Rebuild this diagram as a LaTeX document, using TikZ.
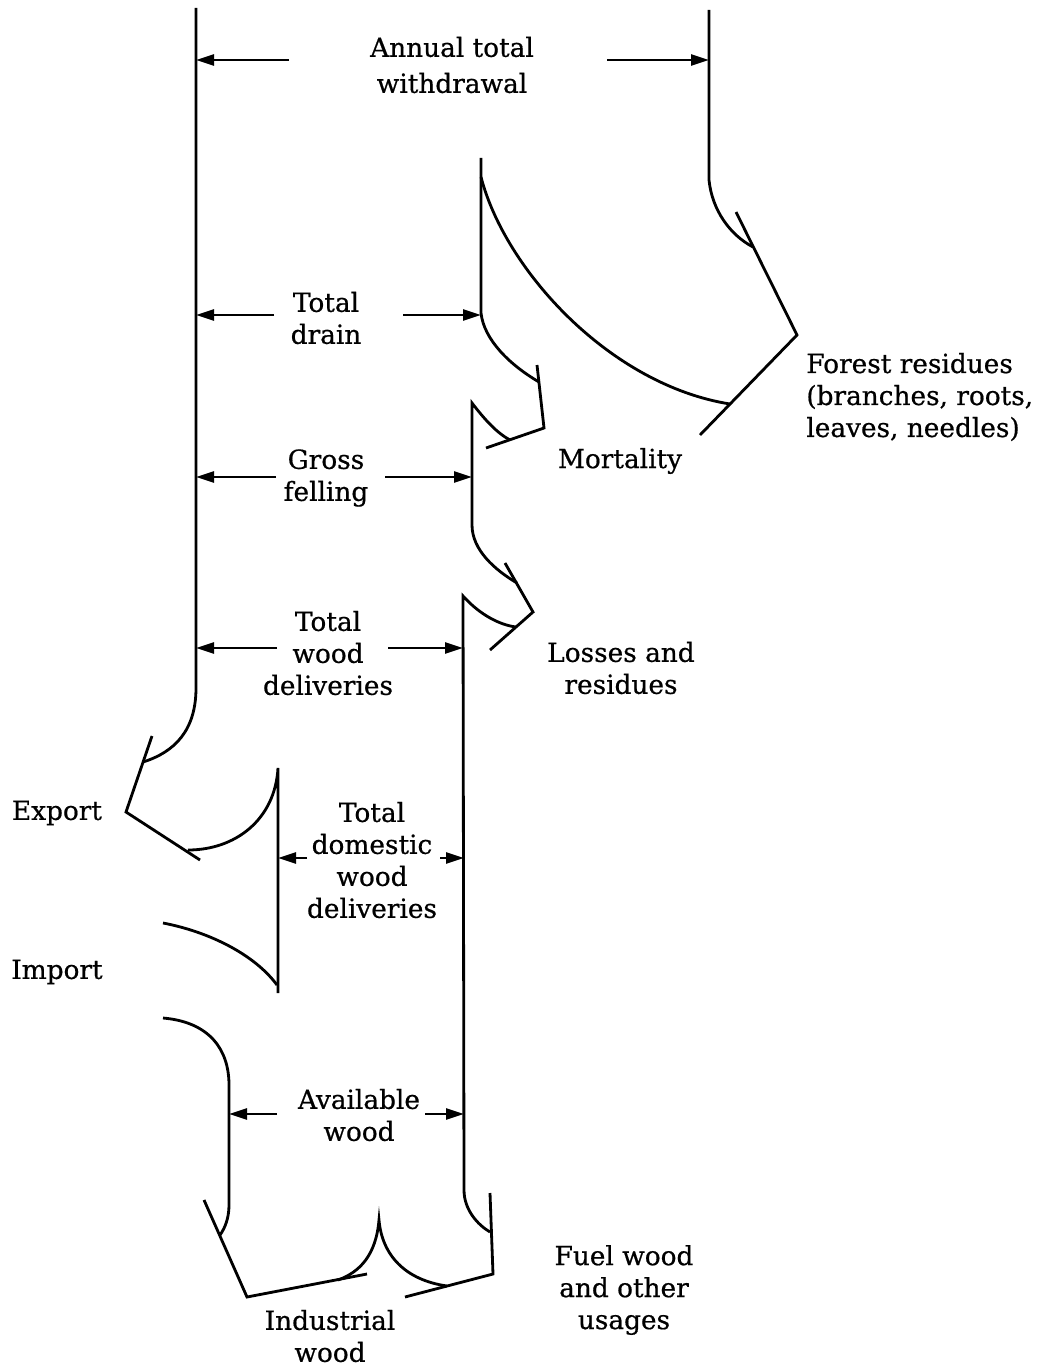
\documentclass[tikz,border=0pt]{standalone}
\usepackage{fontspec}
\setmainfont[FakeBold=0.6]{DejaVu Serif}
\usetikzlibrary{arrows.meta}
\begin{document}
\begin{tikzpicture}[x=0.02cm,y=-0.02cm,
  flow/.style={line width=1.6pt, line join=miter},
  dim/.style={line width=1.5pt, -{Triangle[length=0.36cm,width=0.22cm]}},
  lbl/.style={font=\fontsize{15}{18.2}\selectfont, align=center, inner sep=0pt},
]
\useasboundingbox (0,0) rectangle (1058,1368);

% ---- flow outlines ----
% left stem and export branch
\draw[flow] (196,8) -- (196,688) .. controls (196,730) and (175,752) .. (143,762);
\draw[flow] (152,736) -- (126,812) -- (200,860);
\draw[flow] (188,850) .. controls (235,850) and (275,820) .. (278,768) -- (278,993);
% import branch
\draw[flow] (163,923) .. controls (210,932) and (255,955) .. (277,985);
\draw[flow] (163,1018) .. controls (210,1022) and (229,1050) .. (229,1085)
  -- (229,1205) .. controls (229,1218) and (225,1228) .. (220,1235);
\draw[flow] (204,1200) -- (247,1297) -- (367,1274);
% industrial wood / fuel wood split
\draw[flow] (338,1280) .. controls (360,1272) and (376,1255) .. (379,1220)
  .. controls (382,1255) and (405,1280) .. (447,1286);
\draw[flow] (405,1297) -- (493,1274) -- (490,1193);
% right stem with losses and residues
\draw[flow] (516,627) .. controls (500,625) and (480,615) .. (463,596)
  -- (464,1190) .. controls (464,1210) and (478,1225) .. (490,1232);
\draw[flow] (505,563) -- (533,612) -- (490,650);
% gross felling line with mortality
\draw[flow] (510,440) .. controls (497,433) and (485,420) .. (472,403)
  -- (472,525) .. controls (472,550) and (495,570) .. (517,583);
\draw[flow] (486,448) -- (544,428) -- (537,365);
% total drain line
\draw[flow] (481,158) -- (481,313) .. controls (484,340) and (510,365) .. (539,382);
% forest residues
\draw[flow] (481,177) .. controls (505,270) and (610,385) .. (730,404);
\draw[flow] (709,10) -- (709,180) .. controls (712,210) and (730,235) .. (753,247);
\draw[flow] (736,212) -- (797,335) -- (700,435);

% ---- labels ----
\node[lbl, font=\fontsize{15}{20.5}\selectfont] (withdrawal) at (452,65) {Annual total\\withdrawal};
\node[lbl] (drain) at (326,318) {Total\\drain};
\node[lbl] (felling) at (326,478) {Gross\\felling};
\node[lbl] (deliveries) at (328,653) {Total\\wood\\deliveries};
\node[lbl] (domestic) at (372,860) {Total\\domestic\\wood\\deliveries};
\node[lbl] (available) at (359,1115) {Available\\wood};
\node[lbl] (mortality) at (620,461) {Mortality};
\node[lbl] (losses) at (621,668) {Losses and\\residues};
\node[lbl, align=left, anchor=west] (forest) at (806,397) {Forest residues\\(branches, roots,\\leaves, needles)};
\node[lbl] (export) at (57,813) {Export};
\node[lbl] (import) at (57,972) {Import};
\node[lbl] (fuel) at (624,1290) {Fuel wood\\and other\\usages};
\node[lbl] (industrial) at (330,1336) {Industrial\\wood};

% ---- dimension arrows ----
\coordinate (aw-a) at (289,60);  \coordinate (aw-L) at (196,60);
\coordinate (aw-b) at (607,60);  \coordinate (aw-R) at (709,60);
\coordinate (td-a) at (274,315); \coordinate (td-L) at (196,315);
\coordinate (td-b) at (403,315); \coordinate (td-R) at (481,315);
\coordinate (gf-a) at (276,477); \coordinate (gf-L) at (196,477);
\coordinate (gf-b) at (385,477); \coordinate (gf-R) at (472,477);
\coordinate (wd-a) at (277,648); \coordinate (wd-L) at (196,648);
\coordinate (wd-b) at (388,648); \coordinate (wd-R) at (463,648);
\coordinate (dd-a) at (307,858); \coordinate (dd-L) at (278,858);
\coordinate (dd-b) at (440,858); \coordinate (dd-R) at (464,858);
\coordinate (av-a) at (277,1114); \coordinate (av-L) at (229,1114);
\coordinate (av-b) at (425,1114); \coordinate (av-R) at (464,1114);

\foreach \p in {aw,td,gf,wd,dd,av}{
  \draw[dim] (\p-a) -- (\p-L);
  \draw[dim] (\p-b) -- (\p-R);
}
\end{tikzpicture}
\end{document}
